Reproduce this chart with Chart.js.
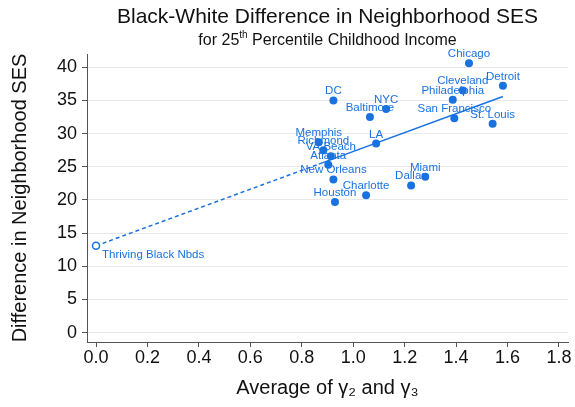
<!DOCTYPE html>
<html>
<head>
<meta charset="utf-8">
<script src="https://cdn.jsdelivr.net/npm/chart.js@4.4.0/dist/chart.umd.min.js"></script>
<style>
  html, body { margin: 0; padding: 0; background: #fff; }
</style>
</head>
<body>
<canvas id="chart" width="575" height="407"></canvas>
<script>
// data
const cities = ['Chicago', 'Detroit', 'Cleveland', 'Philadelphia', 'DC', 'NYC', 'Baltimore',
  'San Francisco', 'St. Louis', 'LA', 'Memphis', 'Richmond', 'VA Beach', 'Atlanta',
  'New Orleans', 'Houston', 'Charlotte', 'Dallas', 'Miami'];
const cityX = [1.450, 1.582, 1.426, 1.387, 0.923, 1.128, 1.065, 1.393, 1.542, 1.089,
  0.866, 0.884, 0.913, 0.903, 0.923, 0.929, 1.050, 1.225, 1.280];
const cityY = [40.6, 37.2, 36.5, 35.1, 35.0, 33.7, 32.5, 32.3, 31.5, 28.5,
  28.7, 27.5, 26.6, 25.3, 23.1, 19.7, 20.7, 22.2, 23.5];

const thrivingLabel = ['Thriving Black Nbds'];
const thrivingX = [0];
const thrivingY = [13.1];

// fitted line, read at its ends
const fitDashX = [0, 0.866];
const fitDashY = [13.1, 25.4];
const fitSolidX = [0.866, 1.582];
const fitSolidY = [25.4, 35.6];

const xTicks = [0, 0.2, 0.4, 0.6, 0.8, 1.0, 1.2, 1.4, 1.6, 1.8];
const yTicks = [0, 5, 10, 15, 20, 25, 30, 35, 40];

const blue = '#1a72e0';
const fontFam = '"Liberation Sans", Arial, Helvetica, sans-serif';
Chart.defaults.font.family = fontFam;

const pts = (xs, ys) => xs.map((x, i) => ({ x: x, y: ys[i] }));

// marker labels, above the dot unless the dataset says otherwise
const pointLabels = {
  id: 'pointLabels',
  afterDatasetsDraw(chart) {
    const ctx = chart.ctx;
    ctx.save();
    ctx.font = '11.5px ' + fontFam;
    ctx.fillStyle = blue;
    chart.data.datasets.forEach((ds, i) => {
      if (!ds.labels) return;
      chart.getDatasetMeta(i).data.forEach((el, j) => {
        if (ds.labelBelowRight) {
          ctx.textAlign = 'left';
          ctx.textBaseline = 'middle';
          ctx.fillText(ds.labels[j], el.x + 6, el.y + 9);
        } else {
          ctx.textAlign = 'center';
          ctx.textBaseline = 'alphabetic';
          ctx.fillText(ds.labels[j], el.x, el.y - 6);
        }
      });
    });
    ctx.restore();
  }
};

// title + subtitle with a superscript
const titles = {
  id: 'titles',
  afterDraw(chart) {
    const ctx = chart.ctx;
    const a = chart.chartArea;
    const cx = (a.left + a.right) / 2;
    ctx.save();
    ctx.fillStyle = '#111';
    ctx.textBaseline = 'middle';
    ctx.textAlign = 'center';
    ctx.font = '21px ' + fontFam;
    ctx.fillText('Black-White Difference in Neighborhood SES', cx, 17);

    const parts = [['for 25', 16, 0], ['th', 10, -6], [' Percentile Childhood Income', 16, 0]];
    let total = 0;
    parts.forEach(p => { ctx.font = p[1] + 'px ' + fontFam; total += ctx.measureText(p[0]).width; });
    let x = cx - total / 2;
    ctx.textAlign = 'left';
    parts.forEach(p => {
      ctx.font = p[1] + 'px ' + fontFam;
      ctx.fillText(p[0], x, 41 + p[2]);
      x += ctx.measureText(p[0]).width;
    });
    ctx.restore();
  }
};

new Chart(document.getElementById('chart').getContext('2d'), {
  type: 'scatter',
  data: {
    datasets: [
      {
        data: pts(cityX, cityY),
        labels: cities,
        pointRadius: 4,
        pointHoverRadius: 4,
        backgroundColor: blue,
        borderColor: blue,
        borderWidth: 0
      },
      {
        data: pts(thrivingX, thrivingY),
        labels: thrivingLabel,
        labelBelowRight: true,
        pointRadius: 3.5,
        backgroundColor: '#fff',
        borderColor: blue,
        borderWidth: 1.5
      },
      {
        data: pts(fitDashX, fitDashY),
        showLine: true,
        pointRadius: 0,
        borderColor: blue,
        borderWidth: 1.5,
        borderDash: [4, 3]
      },
      {
        data: pts(fitSolidX, fitSolidY),
        showLine: true,
        pointRadius: 0,
        borderColor: blue,
        borderWidth: 1.5
      }
    ]
  },
  options: {
    responsive: false,
    animation: false,
    devicePixelRatio: 1,
    layout: { padding: { top: 54, right: 7, left: 0, bottom: 0 } },
    plugins: {
      legend: { display: false },
      tooltip: { enabled: false }
    },
    scales: {
      x: {
        type: 'linear',
        min: -0.035,
        max: 1.835,
        afterBuildTicks: s => { s.ticks = xTicks.map(v => ({ value: v })); },
        afterFit: s => { s.height = 65; },
        ticks: {
          callback: v => v.toFixed(1),
          font: { size: 18 },
          color: '#111',
          padding: 0,
          maxRotation: 0
        },
        grid: { drawOnChartArea: false, tickLength: 5, tickColor: '#555' },
        border: { color: '#555', width: 1 },
        title: {
          display: true,
          text: 'Average of γ₂ and γ₃',
          font: { size: 20 },
          color: '#111',
          padding: { top: 4, bottom: 7 }
        }
      },
      y: {
        type: 'linear',
        min: -1.4,
        max: 42.0,
        afterBuildTicks: s => { s.ticks = yTicks.map(v => ({ value: v })); },
        afterFit: s => { s.width = 87; },
        ticks: {
          font: { size: 18 },
          color: '#111',
          padding: 5
        },
        grid: { color: '#e9e9e9', tickLength: 5, tickColor: '#555' },
        border: { color: '#555', width: 1 },
        title: {
          display: true,
          text: 'Difference in Neighborhood SES',
          font: { size: 20 },
          color: '#111',
          padding: { top: 8, bottom: 4 }
        }
      }
    }
  },
  plugins: [pointLabels, titles]
});
</script>
</body>
</html>
